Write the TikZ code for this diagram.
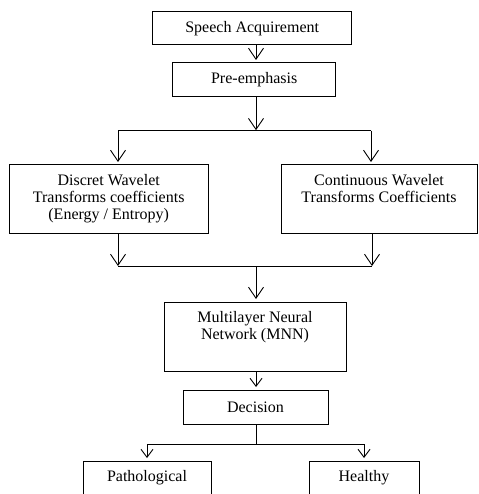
\documentclass[tikz,border=0pt]{standalone}
\usepackage{fontspec}
\setmainfont{Liberation Serif}
\usetikzlibrary{arrows.meta}
\begin{document}
\begin{tikzpicture}[x=1pt,y=-1pt,
  box/.style={draw, line width=1pt, inner sep=0pt, align=center,
    font=\fontsize{16}{17}\selectfont},
  conn/.style={line width=1pt},
  arr/.style={conn, -{Straight Barb[length=11pt,width=15pt,line width=0.9pt]}, shorten >=2.5pt}]
\useasboundingbox (0,0) rectangle (478,494);
\clip (0,0) rectangle (478,494);
\node[box, minimum width=199pt, minimum height=33.3pt] (sa) at (252.2,28.3) {Speech Acquirement};
\node[box, minimum width=163pt, minimum height=34pt] (pe) at (254.2,80) {Pre-emphasis};
\node[box, minimum width=198.7pt, minimum height=68pt] (dwt) at (108.7,199) {Discret Wavelet\\Transforms coefficients\\(Energy / Entropy)};
\node[box, minimum width=196pt, minimum height=68pt] (cwt) at (379,199) {Continuous Wavelet\\Transforms Coefficients\\\strut};
\node[box, minimum width=182pt, minimum height=69pt] (mnn) at (255,336.5) {Multilayer Neural\\Network (MNN)\\\strut};
\node[box, minimum width=145pt, minimum height=34pt] (dec) at (255.5,407) {Decision};
\node[box, minimum width=128pt, minimum height=34pt] (pat) at (147,478) {Pathological};
\node[box, minimum width=110pt, minimum height=34pt] (hea) at (364,478) {Healthy};
\coordinate (cx) at (256,0);
\coordinate (s1) at (256,130.7);
\coordinate (s1l) at (118,130.7);
\coordinate (s1r) at (371,130.7);
\coordinate (m1) at (256,266);
\coordinate (m1l) at (118,266);
\coordinate (m1r) at (372,266);
\coordinate (d1) at (256,444);
\coordinate (d1l) at (147,444);
\coordinate (d1r) at (364,444);
\draw[arr] (sa.south -| cx) -- (pe.north -| cx);
\draw[arr, shorten >=0.5pt] (pe.south -| cx) -- (s1);
\draw[conn] (s1l) -- (s1r);
\draw[arr] (s1l) -- (dwt.north -| s1l);
\draw[arr] (s1r) -- (cwt.north -| s1r);
\draw[arr, shorten >=0pt] (dwt.south -| m1l) -- (m1l);
\draw[arr, shorten >=0pt] (cwt.south -| m1r) -- (m1r);
\draw[conn] (m1l) -- (m1r);
\draw[arr] (m1) -- (mnn.north -| m1);
\draw[arr, -{Straight Barb[length=8pt,width=12pt,line width=0.9pt]}] (mnn.south -| cx) -- (dec.north -| cx);
\draw[conn] (dec.south -| cx) -- (d1);
\draw[conn] (d1l) -- (d1r);
\draw[arr, -{Straight Barb[length=8pt,width=12pt,line width=0.9pt]}] (d1l) -- (pat.north -| d1l);
\draw[arr, -{Straight Barb[length=8pt,width=12pt,line width=0.9pt]}] (d1r) -- (hea.north -| d1r);
\end{tikzpicture}
\end{document}
